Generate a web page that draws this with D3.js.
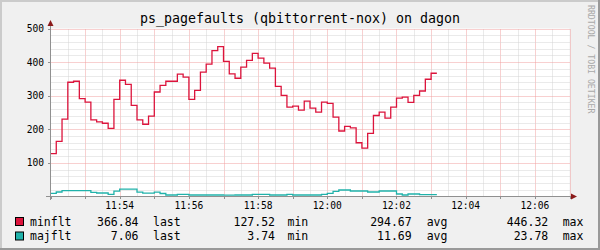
<!DOCTYPE html>
<html>
<head>
<meta charset="utf-8">
<script src="https://cdn.jsdelivr.net/npm/d3@7"></script>
<style>
  body { margin: 0; background: #f0f0f0; }
  text { font-family: "DejaVu Sans Mono", monospace; }
</style>
</head>
<body>
<div id="chart"></div>
<script>
    // values, one sample every 10 s from 11:52:00
    var minflt = [127.5, 164, 230, 340, 343, 291, 281, 228, 222, 218,
                  203, 289, 346, 334, 271, 228, 215, 239, 311, 331,
                  343, 343, 364, 355, 289, 316, 370, 394, 434, 446.3,
                  402, 365, 352, 385, 405, 426, 412, 397, 382, 328,
                  301, 266, 269, 257, 284, 263, 251, 281, 277, 236,
                  195, 209, 204, 160, 144, 188, 241, 251, 233, 266,
                  293, 296, 280, 301, 314, 349, 366.8];
    var majflt = [9.5, 13.4, 17.4, 17.4, 17.4, 17.4, 17.4, 12, 10.4, 10.4,
                  6.5, 16, 22, 22, 22, 13, 10, 10, 13, 9,
                  4.5, 4.5, 6.5, 6.5, 4.5, 4.5, 4.5, 4.5, 4.5, 4.5,
                  3.8, 3.8, 4.5, 4.5, 4.5, 6.5, 6.5, 6.5, 4.5, 4.5,
                  4.5, 6.5, 4.5, 4.5, 4.5, 4.5, 4.5, 6.5, 9.5, 15.5,
                  19.3, 19.3, 16.4, 16.4, 16.4, 13.4, 13.4, 16.4, 16.4, 16.4,
                  7.4, 4.5, 7.4, 7.4, 5.5, 5.5, 5.5];
    var stepSeconds = 10;
    var startTime = Date.UTC(2024, 0, 1, 11, 52, 0);
    var endTime = Date.UTC(2024, 0, 1, 12, 7, 0);

    var yTicks = [100, 200, 300, 400, 500];
    var xLabels = ["11:54", "11:56", "11:58", "12:00", "12:02", "12:04", "12:06"];

    var seriesNames = ["minflt", "majflt"];
    var seriesColors = ["#dc143c", "#20b2aa"];
    var lastVals = ["366.84", "7.06"];
    var minVals = ["127.52", "3.74"];
    var avgVals = ["294.67", "11.69"];
    var maxVals = ["446.32", "23.78"];

    var width = 600;
    var height = 250;

    var svg = d3.select("#chart")
                .append("svg")
                .attr("width", width)
                .attr("height", height);

    // frame with the 3d shading
    svg.append("rect").attr("width", width).attr("height", height).attr("fill", "#f0f0f0");
    svg.append("rect").attr("x", 0).attr("y", 0).attr("width", width).attr("height", 2).attr("fill", "#cbcbcb");
    svg.append("rect").attr("x", 0).attr("y", 0).attr("width", 2).attr("height", height).attr("fill", "#cbcbcb");
    svg.append("rect").attr("x", 0).attr("y", height - 2).attr("width", width).attr("height", 2).attr("fill", "#999999");
    svg.append("rect").attr("x", width - 2).attr("y", 0).attr("width", 2).attr("height", height).attr("fill", "#999999");

    var x = d3.scaleUtc().domain([startTime, endTime]).range([50.5, 569.5]);
    var y = d3.scaleLinear().domain([0, 500]).range([196.5, 28.5]);

    // white canvas
    svg.append("rect")
       .attr("x", x.range()[0]).attr("y", y(500))
       .attr("width", x.range()[1] - x.range()[0])
       .attr("height", y(0) - y(500))
       .attr("fill", "#ffffff");

    // grid: minor every 30 s and 20 units, major every minute and 100 units
    var grid = svg.append("g");
    var halfMinutes = d3.utcSecond.every(30).range(new Date(startTime + 1000), new Date(endTime + 1000));
    halfMinutes.forEach(function(t) {
        var major = t.getUTCSeconds() === 0;
        var px = Math.round(x(t)) + 0.5;
        grid.append("line")
            .attr("x1", px).attr("x2", px)
            .attr("y1", y(0)).attr("y2", y(500))
            .attr("stroke", major ? "#f0a0a0" : "#d4d4d4")
            .attr("stroke-dasharray", "1,1");
    });
    d3.range(20, 501, 20).forEach(function(v) {
        var major = v % 100 === 0;
        var py = Math.round(y(v)) + 0.5;
        grid.append("line")
            .attr("x1", x.range()[0]).attr("x2", x.range()[1])
            .attr("y1", py).attr("y2", py)
            .attr("stroke", major ? "#f0a0a0" : "#d4d4d4")
            .attr("stroke-dasharray", "1,1");
    });

    // series as steps
    var stepLine = d3.line()
                     .x(function(d) { return x(d[0]); })
                     .y(function(d) { return y(d[1]); })
                     .curve(d3.curveStepAfter);
    var toPoints = function(vals) {
        var pts = vals.map(function(v, i) { return [startTime + i * stepSeconds * 1000, v]; });
        pts.push([startTime + vals.length * stepSeconds * 1000, vals[vals.length - 1]]);
        return pts;
    };
    [minflt, majflt].forEach(function(vals, i) {
        svg.append("path")
           .attr("d", stepLine(toPoints(vals)))
           .attr("fill", "none")
           .attr("stroke", seriesColors[i])
           .attr("stroke-width", 1.3);
    });

    // axes
    var axisColor = "#909090";
    var arrowColor = "#8b1a1a";
    svg.append("line").attr("x1", 46).attr("x2", 573).attr("y1", 196.5).attr("y2", 196.5).attr("stroke", axisColor);
    svg.append("line").attr("x1", 50.5).attr("x2", 50.5).attr("y1", 200).attr("y2", 24).attr("stroke", axisColor);
    svg.append("path").attr("d", "M571,193.5L577,196.5L571,199.5Z").attr("fill", arrowColor);
    svg.append("path").attr("d", "M47.5,26L50.5,20L53.5,26Z").attr("fill", arrowColor);

    d3.utcMinute.every(1).range(new Date(startTime), new Date(endTime + 1000)).forEach(function(t) {
        var px = Math.round(x(t)) + 0.5;
        svg.append("line").attr("x1", px).attr("x2", px).attr("y1", 196.5).attr("y2", 199).attr("stroke", axisColor);
    });
    yTicks.forEach(function(v) {
        var py = Math.round(y(v)) + 0.5;
        svg.append("line").attr("x1", 48).attr("x2", 50.5).attr("y1", py).attr("y2", py).attr("stroke", axisColor);
        svg.append("text")
           .attr("x", 44).attr("y", y(v) + 3.5)
           .attr("text-anchor", "end")
           .attr("font-size", "9.6px")
           .text(v);
    });

    var parseHM = d3.utcParse("%H:%M");
    xLabels.forEach(function(lbl) {
        var t = parseHM(lbl);
        var ts = Date.UTC(2024, 0, 1, t.getUTCHours(), t.getUTCMinutes());
        svg.append("text")
           .attr("x", x(ts)).attr("y", 209)
           .attr("text-anchor", "middle")
           .attr("font-size", "9.6px")
           .text(lbl);
    });

    // title and watermark
    svg.append("text")
       .attr("x", 300).attr("y", 23)
       .attr("text-anchor", "middle")
       .attr("font-size", "13.3px")
       .text("ps_pagefaults (qbittorrent-nox) on dagon");
    svg.append("text")
       .attr("transform", "translate(587.5,5) rotate(90)")
       .attr("font-size", "8.2px")
       .attr("fill", "#a8a8a8")
       .text("RRDTOOL / TOBI OETIKER");

    // legend
    seriesNames.forEach(function(name, i) {
        var base = 225.5 + i * 14.5;
        svg.append("rect")
           .attr("x", 15.5).attr("y", base - 8)
           .attr("width", 8).attr("height", 8)
           .attr("fill", seriesColors[i]).attr("stroke", "#000");
        var row = [[30, name, "start"], [138.5, lastVals[i], "end"], [153, "last", "start"],
                   [275, minVals[i], "end"], [287.5, "min", "start"],
                   [411.7, avgVals[i], "end"], [426.7, "avg", "start"],
                   [548.3, maxVals[i], "end"], [562.7, "max", "start"]];
        row.forEach(function(c) {
            svg.append("text")
               .attr("x", c[0]).attr("y", base)
               .attr("text-anchor", c[2])
               .attr("font-size", "11.5px")
               .text(c[1]);
        });
    });
</script>
</body>
</html>
